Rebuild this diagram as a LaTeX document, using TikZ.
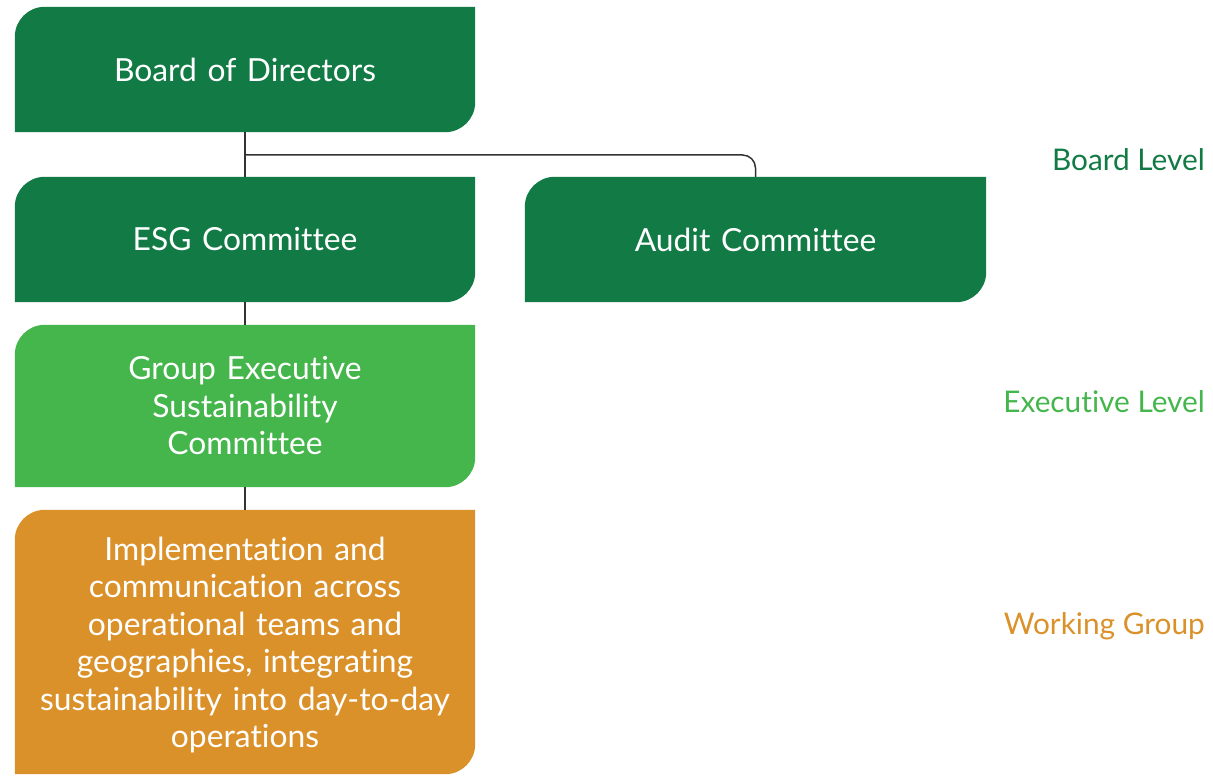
\documentclass[tikz,border=0pt]{standalone}
\usepackage{fontspec}
\setmainfont{Lato}[Ligatures=NoCommon]
\usetikzlibrary{backgrounds}
\definecolor{dgreen}{RGB}{18,122,68}
\definecolor{lgreen}{RGB}{68,182,76}
\definecolor{orng}{RGB}{219,145,42}
\definecolor{lnc}{RGB}{51,51,51}
\tikzset{
  box/.style={minimum width=460pt, inner sep=0pt, align=center, text=white,
    font=\fontsize{31.8}{37.5}\selectfont, text width=450pt},
  lvl/.style={anchor=east, inner sep=0pt, font=\fontsize{29.8}{35}\selectfont},
  conn/.style={draw=lnc, line width=1.5pt},
}
\newcommand{\leaf}[2]{%
  \fill[#2] (#1.south west) -- ([yshift=-30pt]#1.north west)
    arc[start angle=180,end angle=90,radius=30pt] -- (#1.north east)
    -- ([yshift=30pt]#1.south east)
    arc[start angle=0,end angle=-90,radius=30pt] -- cycle;}
\begin{document}
\begin{tikzpicture}[x=1pt,y=1pt]
\useasboundingbox (0,0) rectangle (1213,776);
\node[box, minimum height=125pt] (board) at (245,706.5) {Board of Directors};
\node[box, minimum height=125pt] (esg) at (245,536.5) {ESG Committee};
\node[box, minimum height=125pt, minimum width=461pt] (audit) at (755.5,536.5) {Audit Committee};
\node[box, minimum height=162pt] (gesc) at (245,370) {Group Executive\\Sustainability\\Committee};
\node[box, minimum height=264pt] (impl) at (245,134) {};
\node[box] (impltext) at (245,131) {Implementation and\\communication across\\operational teams and\\geographies, integrating\\sustainability into day-to-day\\operations};
\begin{scope}[on background layer]
\leaf{board}{dgreen}
\leaf{esg}{dgreen}
\leaf{audit}{dgreen}
\leaf{gesc}{lgreen}
\leaf{impl}{orng}
\end{scope}
\coordinate (j) at (245,621);
\draw[conn] (board.south) -- (esg.north);
\draw[conn, rounded corners=13pt] (j) -- (audit.north |- j) -- (audit.north);
\draw[conn] (esg.south) -- (gesc.north);
\draw[conn] (gesc.south) -- (impl.north);
\node[lvl, text=dgreen] (l1) at (1205,616) {Board Level};
\node[lvl, text=lgreen] (l2) at (1205,374) {Executive Level};
\node[lvl, text=orng] (l3) at (1205,150) {Working Group};
\end{tikzpicture}
\end{document}
